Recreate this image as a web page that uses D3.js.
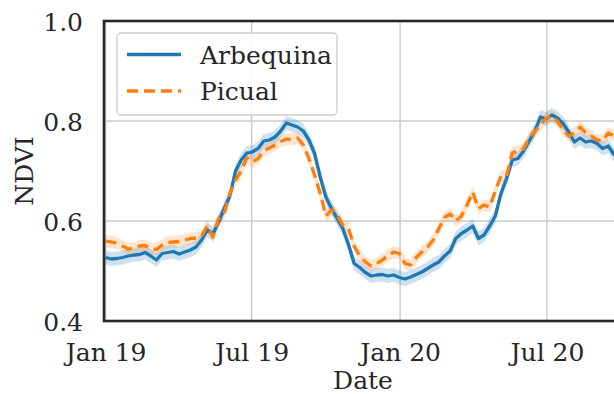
<!DOCTYPE html>
<html>
<head>
<meta charset="utf-8">
<script src="https://cdn.jsdelivr.net/npm/d3@7/dist/d3.min.js"></script>
<style>
  html, body { margin: 0; padding: 0; background: #fff; }
  svg { display: block; font-family: "DejaVu Serif", serif; }
</style>
</head>
<body>
<svg id="chart" width="614" height="394"></svg>
<script>
// Weekly mean NDVI per cultivar, starting on the first week of 2019
const startDate = "2019-01-01";
const arbequinaNDVI = [
  0.527, 0.524, 0.525, 0.527, 0.530, 0.532, 0.533, 0.537, 0.530, 0.522,
  0.535, 0.537, 0.539, 0.534, 0.538, 0.542, 0.548, 0.562, 0.582, 0.574,
  0.598, 0.625, 0.650, 0.700, 0.722, 0.736, 0.738, 0.745, 0.760, 0.762,
  0.768, 0.780, 0.796, 0.792, 0.788, 0.780, 0.762, 0.735, 0.688, 0.648,
  0.625, 0.605, 0.585, 0.553, 0.515, 0.507, 0.497, 0.490, 0.492, 0.493,
  0.490, 0.492, 0.487, 0.484, 0.488, 0.493, 0.498, 0.505, 0.512, 0.518,
  0.530, 0.540, 0.565, 0.575, 0.582, 0.590, 0.565, 0.572, 0.590, 0.610,
  0.655, 0.685, 0.722, 0.725, 0.740, 0.760, 0.780, 0.808, 0.804, 0.812,
  0.806, 0.795, 0.778, 0.758, 0.766, 0.758, 0.760, 0.755, 0.745, 0.750,
  0.733, 0.728
];
const picualNDVI = [
  0.560, 0.558, 0.556, 0.550, 0.544, 0.545, 0.550, 0.551, 0.545, 0.543,
  0.552, 0.557, 0.558, 0.559, 0.562, 0.565, 0.566, 0.570, 0.590, 0.568,
  0.605, 0.615, 0.655, 0.682, 0.700, 0.726, 0.718, 0.725, 0.740, 0.746,
  0.752, 0.759, 0.764, 0.763, 0.766, 0.752, 0.725, 0.692, 0.655, 0.610,
  0.622, 0.612, 0.592, 0.585, 0.550, 0.530, 0.518, 0.510, 0.515, 0.522,
  0.531, 0.538, 0.535, 0.515, 0.512, 0.527, 0.538, 0.548, 0.562, 0.585,
  0.607, 0.614, 0.600, 0.610, 0.632, 0.658, 0.625, 0.632, 0.628, 0.660,
  0.690, 0.690, 0.737, 0.739, 0.744, 0.767, 0.779, 0.792, 0.806, 0.810,
  0.800, 0.782, 0.770, 0.775, 0.788, 0.776, 0.770, 0.762, 0.760, 0.776,
  0.770, 0.772
];
// Half-width of the confidence band around each weekly mean
const arbequinaCI = 0.014;
const picualCI = 0.012;

const seriesNames = ["Arbequina", "Picual"];
const seriesColors = ["#1f77b4", "#ff7f0e"];
const yTicks = [0.4, 0.6, 0.8, 1.0];
const xTickDates = ["2019-01-01", "2019-07-01", "2020-01-01", "2020-07-01"];
const xDomain = ["2018-12-30", "2020-10-02"];

const parse = d3.utcParse("%Y-%m-%d");
const t0 = parse(startDate);
const weeks = arbequinaNDVI.map((_, i) => d3.utcDay.offset(t0, 7 * i));

const series = [
  { name: seriesNames[0], color: seriesColors[0], values: arbequinaNDVI, ci: arbequinaCI, dash: null, bandOpacity: 0.22 },
  { name: seriesNames[1], color: seriesColors[1], values: picualNDVI, ci: picualCI, dash: "11,6", bandOpacity: 0.2 }
];

const svg = d3.select("#chart");
const margin = { left: 104, top: 21, right: 0, bottom: 73 };
const plotRight = 622;
const plotBottom = 394 - margin.bottom;

const x = d3.scaleUtc().domain(xDomain.map(parse)).range([margin.left, plotRight]);
const y = d3.scaleLinear().domain([0.4, 1.0]).range([plotBottom, margin.top]);

const textColor = "#262626";

// clip to plot area
svg.append("defs").append("clipPath").attr("id", "plotClip")
  .append("rect").attr("x", margin.left).attr("y", margin.top)
  .attr("width", plotRight - margin.left).attr("height", plotBottom - margin.top);

// grid lines
const grid = svg.append("g");
grid.selectAll("line.gx").data(xTickDates.map(parse)).join("line")
  .attr("x1", d => x(d)).attr("x2", d => x(d))
  .attr("y1", margin.top).attr("y2", plotBottom)
  .attr("stroke", "#cccccc").attr("stroke-width", 1.5);
grid.selectAll("line.gy").data(yTicks).join("line")
  .attr("x1", margin.left).attr("x2", plotRight)
  .attr("y1", d => y(d)).attr("y2", d => y(d))
  .attr("stroke", "#cccccc").attr("stroke-width", 1.5);

const plot = svg.append("g").attr("clip-path", "url(#plotClip)");

const area = (s) => d3.area()
  .x((d, i) => x(weeks[i]))
  .y0(d => y(d - s.ci))
  .y1(d => y(d + s.ci))
  .curve(d3.curveLinear);

const line = d3.line().x((d, i) => x(weeks[i])).y(d => y(d)).curve(d3.curveLinear);

series.forEach(s => {
  plot.append("path").datum(s.values)
    .attr("d", area(s))
    .attr("fill", s.color).attr("fill-opacity", s.bandOpacity).attr("stroke", "none");
});
series.forEach(s => {
  plot.append("path").datum(s.values)
    .attr("d", line)
    .attr("fill", "none")
    .attr("stroke", s.color)
    .attr("stroke-width", 3.3)
    .attr("stroke-linejoin", "round")
    .attr("stroke-dasharray", s.dash);
});

// axes
const xAxis = d3.axisBottom(x).tickValues(xTickDates.map(parse))
  .tickFormat(d3.utcFormat("%b %y")).tickSize(0).tickPadding(0);
const gx = svg.append("g").attr("transform", `translate(0,${plotBottom})`).call(xAxis);
gx.select(".domain").remove();
gx.selectAll("text").attr("y", 40).attr("dy", null)
  .attr("font-size", 25).attr("font-family", "DejaVu Serif").attr("fill", textColor);

const yAxis = d3.axisLeft(y).tickValues(yTicks).tickFormat(d3.format(".1f")).tickSize(0).tickPadding(0);
const gy = svg.append("g").attr("transform", `translate(${margin.left},0)`).call(yAxis);
gy.select(".domain").remove();
gy.selectAll("text").attr("x", -21).attr("dy", "0.36em")
  .attr("font-size", 25).attr("font-family", "DejaVu Serif").attr("fill", textColor);

// spines
const spine = svg.append("g").attr("stroke", textColor).attr("stroke-width", 2.6).attr("fill", "none");
spine.append("rect").attr("x", margin.left).attr("y", margin.top)
  .attr("width", plotRight - margin.left).attr("height", plotBottom - margin.top);

// axis titles
svg.append("text").attr("x", (margin.left + plotRight) / 2).attr("y", 389)
  .attr("text-anchor", "middle").attr("font-size", 25).attr("fill", textColor).text("Date");
svg.append("text")
  .attr("transform", `translate(33,${(margin.top + plotBottom) / 2}) rotate(-90)`)
  .attr("text-anchor", "middle").attr("font-size", 25).attr("fill", textColor).text("NDVI");

// legend
const lg = svg.append("g").attr("transform", "translate(117,33)");
lg.append("rect").attr("width", 220).attr("height", 82).attr("rx", 4)
  .attr("fill", "#fff").attr("fill-opacity", 0.8).attr("stroke", "#cccccc").attr("stroke-width", 1.3);
series.forEach((s, i) => {
  const cy = 21.5 + i * 36.5;
  lg.append("line").attr("x1", 10).attr("x2", 64).attr("y1", cy).attr("y2", cy)
    .attr("stroke", s.color).attr("stroke-width", 3.3).attr("stroke-dasharray", s.dash);
  lg.append("text").attr("x", 83).attr("y", cy).attr("dy", "0.36em")
    .attr("font-size", 25).attr("fill", textColor).text(s.name);
});
</script>
</body>
</html>
